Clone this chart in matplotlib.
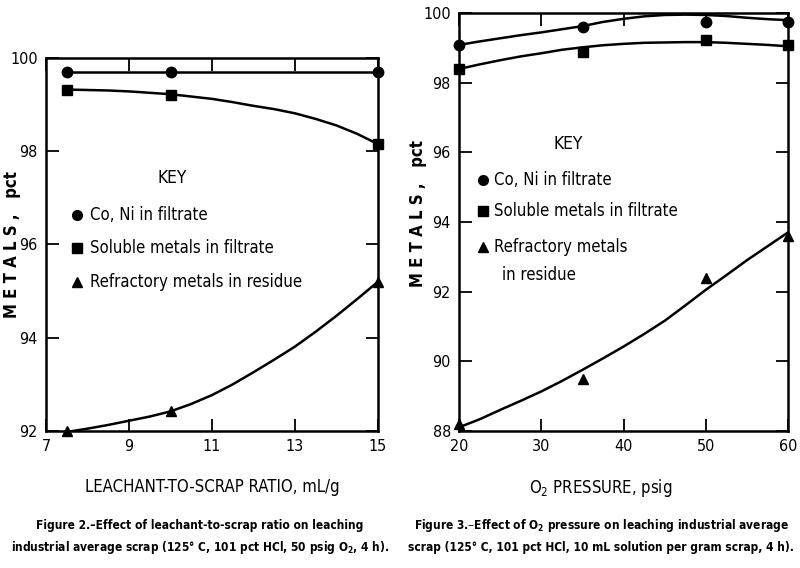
import matplotlib
matplotlib.use('Agg')
import matplotlib.pyplot as plt

plt.rcParams['font.family'] = ['DejaVu Sans']
plt.rcParams['font.stretch'] = 'condensed'
plt.rcParams['mathtext.default'] = 'regular'

# Figure 2 - leachant-to-scrap ratio
ratio = [7.5, 10, 15]
ratio_coni = [99.7, 99.7, 99.7]
ratio_sol = [99.3, 99.2, 98.15]
ratio_ref = [92.0, 92.43, 95.2]

# drawn curves
ratio_curve_x = [7.5, 8, 8.5, 9, 9.5, 10, 10.5, 11, 11.5, 12, 12.5, 13, 13.5, 14, 14.5, 15]
ratio_curve_coni = [99.7] * 16
ratio_curve_sol = [99.32, 99.31, 99.3, 99.28, 99.25, 99.22, 99.17, 99.12,
                   99.05, 98.97, 98.9, 98.81, 98.69, 98.55, 98.37, 98.15]
ratio_curve_ref = [91.98, 92.05, 92.13, 92.22, 92.31, 92.42, 92.58, 92.77,
                   93.0, 93.26, 93.53, 93.81, 94.13, 94.47, 94.83, 95.2]

# Figure 3 - O2 pressure
press = [20, 35, 50, 60]
press_coni = [99.1, 99.6, 99.76, 99.76]
press_sol = [98.4, 98.9, 99.23, 99.09]
press_ref = [88.2, 89.5, 92.4, 93.6]

press_curve_x = [20, 22.5, 25, 27.5, 30, 32.5, 35, 37.5, 40, 42.5, 45, 47.5, 50, 52.5, 55, 57.5, 60]
press_curve_coni = [99.09, 99.19, 99.28, 99.37, 99.45, 99.54, 99.63, 99.75, 99.84,
                    99.91, 99.95, 99.96, 99.95, 99.92, 99.87, 99.83, 99.8]
press_curve_sol = [98.4, 98.53, 98.65, 98.76, 98.85, 98.95, 99.02, 99.08, 99.12,
                   99.15, 99.16, 99.17, 99.17, 99.15, 99.12, 99.09, 99.05]
press_curve_ref = [88.1, 88.33, 88.6, 88.86, 89.13, 89.43, 89.75, 90.08, 90.42,
                   90.78, 91.16, 91.6, 92.05, 92.47, 92.9, 93.3, 93.7]

labels = ['Co, Ni in filtrate', 'Soluble metals in filtrate', 'Refractory metals in residue']
markers = ['o', 's', '^']

fig = plt.figure(figsize=(8, 5.68), dpi=100)
ax1 = fig.add_axes([0.0575, 0.2412, 0.415, 0.657])
ax2 = fig.add_axes([0.574, 0.2417, 0.411, 0.735])


def style(ax):
    for s in ax.spines.values():
        s.set_linewidth(1.8)
    ax.tick_params(direction='in', length=9, width=1.3, top=True, right=True,
                   labelsize=11.5, pad=6)


# left panel
for xs, ys, cy, m in [(ratio, ratio_coni, ratio_curve_coni, 'o'),
                      (ratio, ratio_sol, ratio_curve_sol, 's'),
                      (ratio, ratio_ref, ratio_curve_ref, '^')]:
    ax1.plot(ratio_curve_x, cy, color='black', lw=1.8, solid_capstyle='round')
    ax1.plot(xs, ys, m, color='black', ms=7.5, clip_on=False)
ax1.set_xlim(7, 15)
ax1.set_ylim(92, 100)
ax1.set_xticks([7, 9, 11, 13, 15])
ax1.set_yticks([92, 94, 96, 98, 100])
style(ax1)
ax1.set_xlabel('LEACHANT-TO-SCRAP RATIO, mL/g', fontsize=12)
ax1.xaxis.set_label_coords(0.5, -0.125)
ax1.set_ylabel('M E T A L S ,   pct', fontsize=12, fontweight='bold')
ax1.yaxis.set_label_coords(-0.075, 0.5)

ax1.text(10.05, 97.42, 'KEY', fontsize=12.5, ha='center', va='center')
ky = [96.63, 95.92, 95.19]
for i in range(3):
    ax1.plot(7.75, ky[i], markers[i], color='black', ms=7)
    ax1.text(8.06, ky[i], labels[i], fontsize=12, va='center')

# right panel
for xs, ys, cy, m in [(press, press_coni, press_curve_coni, 'o'),
                      (press, press_sol, press_curve_sol, 's'),
                      (press, press_ref, press_curve_ref, '^')]:
    ax2.plot(press_curve_x, cy, color='black', lw=1.8, solid_capstyle='round')
    ax2.plot(xs, ys, m, color='black', ms=7.5, clip_on=False)
ax2.set_xlim(20, 60)
ax2.set_ylim(88, 100)
ax2.set_xticks([20, 30, 40, 50, 60])
ax2.set_yticks([88, 90, 92, 94, 96, 98, 100])
style(ax2)
ax2.set_xlabel('O$_2$ PRESSURE, psig', fontsize=12)
ax2.xaxis.set_label_coords(0.43, -0.112)
ax2.set_ylabel('M E T A L S ,   pct', fontsize=12, fontweight='bold')
ax2.yaxis.set_label_coords(-0.097, 0.52)

ax2.text(33.3, 96.24, 'KEY', fontsize=12.5, ha='center', va='center')
ky2 = [95.2, 94.31, 93.27]
for i in range(3):
    ax2.plot(22.9, ky2[i], markers[i], color='black', ms=7)
ax2.text(24.2, ky2[0], labels[0], fontsize=12, va='center')
ax2.text(24.2, ky2[1], labels[1], fontsize=12, va='center')
ax2.text(24.2, ky2[2], 'Refractory metals', fontsize=12, va='center')
ax2.text(25.2, 92.47, 'in residue', fontsize=12, va='center')

# captions
cap = dict(ha='center', va='center', fontsize=8.6, fontweight='bold')
fig.text(200 / 800, 1 - 525 / 568, 'Figure 2.\u2013Effect of leachant-to-scrap ratio on leaching', **cap)
fig.text(200 / 800, 1 - 548 / 568, 'industrial average scrap (125\u00b0 C, 101 pct HCl, 50 psig O$_2$, 4 h).', **cap)
fig.text(601 / 800, 1 - 525 / 568, 'Figure 3.\u2013Effect of O$_2$ pressure on leaching industrial average', **cap)
fig.text(601 / 800, 1 - 548 / 568, 'scrap (125\u00b0 C, 101 pct HCl, 10 mL solution per gram scrap, 4 h).', **cap)

fig.savefig('out.png', dpi=100)
